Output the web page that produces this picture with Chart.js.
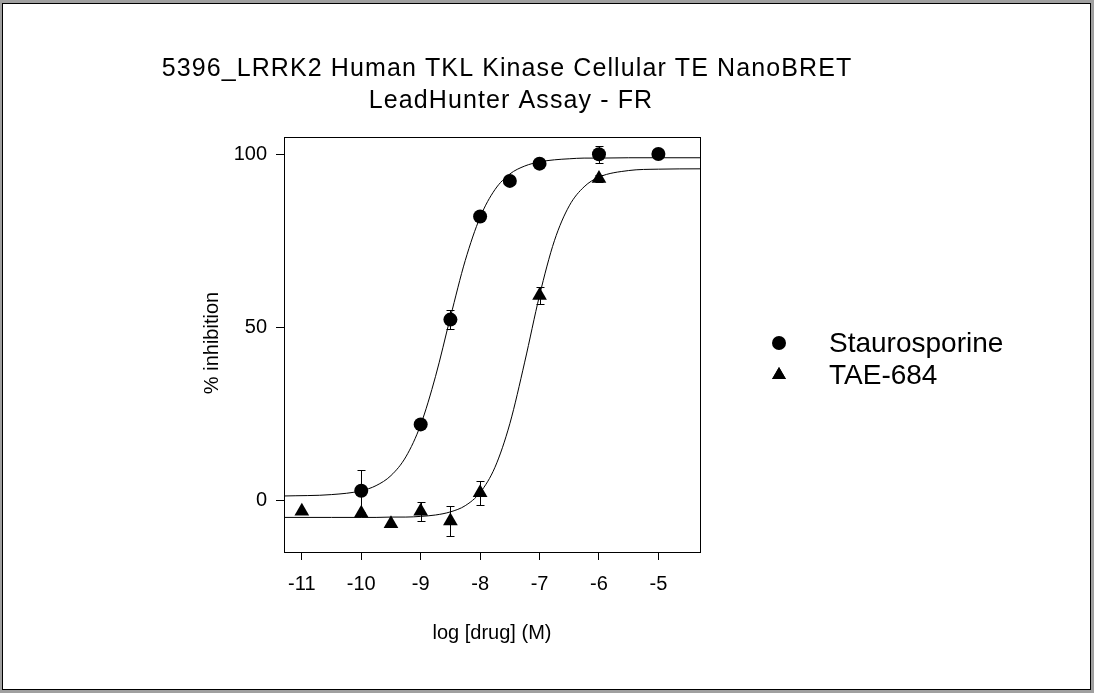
<!DOCTYPE html>
<html>
<head>
<meta charset="utf-8">
<script src="https://cdn.jsdelivr.net/npm/chart.js@4/dist/chart.umd.min.js"></script>
<style>
  html, body { margin: 0; padding: 0; background: #a0a0a0; }
  #wrap { position: absolute; left: 0; top: 0; width: 1094px; height: 693px; }
  canvas { display: block; }
</style>
</head>
<body>
<div id="wrap"><canvas id="c" width="1094" height="693"></canvas></div>
<script>
// ---- data ----
const titleLines = ["5396_LRRK2 Human TKL Kinase Cellular TE NanoBRET", "LeadHunter Assay - FR"];
const xTitle = "log [drug] (M)";
const yTitle = "% inhibition";
const seriesNames = ["Staurosporine", "TAE-684"];

const xTicks = [-11, -10, -9, -8, -7, -6, -5];
const yTicks = [0, 50, 100];

// Staurosporine measured points
const stauX   = [-10, -9, -8.5, -8, -7.5, -7, -6, -5];
const stauY   = [2.7, 21.9, 52.2, 82.0, 92.3, 97.3, 100.0, 100.1];
const stauErr = [6.0, 1.0, 2.7, 1.0, 1.0, 1.0, 2.5, 1.0];

// TAE-684 measured points
const taeX   = [-11, -10, -9.5, -9, -8.5, -8, -7, -6];
const taeY   = [-3.2, -3.8, -6.8, -3.2, -6.0, 2.1, 59.2, 93.0];
const taeErr = [0, 0, 0, 2.7, 4.3, 3.5, 2.4, 1.0];

// fitted curves
const curveX    = [-11.3, -10.5, -10, -9.75, -9.5, -9.25, -9, -8.75, -8.5, -8.25, -8, -7.75, -7.5, -7.25, -7, -6.75, -6.5, -6.25, -6, -5.5, -5, -4.3];
const stauCurve = [1.2, 1.6, 2.7, 4.2, 7.1, 12.5, 21.8, 35.8, 52.9, 69.3, 81.8, 89.8, 94.3, 96.6, 97.8, 98.4, 98.7, 98.9, 98.9, 99.0, 99.0, 99.0];
const taeCurve  = [-5.0, -5.0, -5.0, -5.0, -4.9, -4.9, -4.7, -4.3, -3.4, -1.6, 2.2, 9.5, 22.1, 39.9, 59.2, 75.0, 85.1, 90.6, 93.4, 95.3, 95.7, 95.8];

const FONT = "'Liberation Sans', Arial, sans-serif";

const pts = (xs, ys) => xs.map((x, i) => ({ x: x, y: ys[i] }));

const frameAndText = {
  id: 'frameAndText',
  beforeDraw(chart) {
    const ctx = chart.ctx;
    ctx.save();
    ctx.fillStyle = '#a0a0a0';
    ctx.fillRect(0, 0, chart.width, chart.height);
    ctx.fillStyle = '#ffffff';
    ctx.fillRect(2, 3, 1089, 687);
    ctx.strokeStyle = '#000000';
    ctx.lineWidth = 1;
    ctx.strokeRect(2.5, 3.5, 1088, 686);
    ctx.restore();
  },
  afterDraw(chart) {
    const ctx = chart.ctx;
    const a = chart.chartArea;
    ctx.save();
    // plot frame
    ctx.strokeStyle = '#000';
    ctx.lineWidth = 1;
    ctx.strokeRect(Math.round(a.left) + 0.5, Math.round(a.top) + 0.5, Math.round(a.right - a.left), Math.round(a.bottom - a.top));
    ctx.fillStyle = '#000';
    // title
    ctx.font = '25px ' + FONT;
    ctx.textAlign = 'center';
    ctx.textBaseline = 'alphabetic';
    try { ctx.letterSpacing = '1.1px'; } catch (e) {}
    ctx.fillText(titleLines[0], 507, 76);
    ctx.fillText(titleLines[1], 511, 108);
    try { ctx.letterSpacing = '0px'; } catch (e) {}
    // axis titles
    ctx.font = '20px ' + FONT;
    ctx.textBaseline = 'middle';
    ctx.fillText(xTitle, (a.left + a.right) / 2, 633);
    ctx.save();
    ctx.translate(212, 343);
    ctx.rotate(-Math.PI / 2);
    ctx.fillText(yTitle, 0, 0);
    ctx.restore();
    // legend
    ctx.font = '28px ' + FONT;
    ctx.textAlign = 'left';
    ctx.textBaseline = 'middle';
    ctx.fillText(seriesNames[0], 829, 344);
    ctx.fillText(seriesNames[1], 829, 376);
    ctx.beginPath();
    ctx.arc(779, 343, 7, 0, Math.PI * 2);
    ctx.fill();
    Chart.helpers.drawPoint(ctx, { pointStyle: 'triangle', radius: 8, borderWidth: 0 }, 779, 375);
    ctx.fill();
    ctx.restore();
  }
};

const errorBars = {
  id: 'errorBars',
  beforeDatasetsDraw(chart) {
    const ctx = chart.ctx;
    const xs = chart.scales.x, ys = chart.scales.y;
    ctx.save();
    ctx.strokeStyle = '#000';
    ctx.lineWidth = 1;
    const draw = (X, Y, E) => {
      X.forEach((x, i) => {
        if (!E[i]) return;
        const px = Math.round(xs.getPixelForValue(x)) + 0.5;
        const t = Math.round(ys.getPixelForValue(Y[i] + E[i])) + 0.5;
        const b = Math.round(ys.getPixelForValue(Y[i] - E[i])) + 0.5;
        ctx.beginPath();
        ctx.moveTo(px, t); ctx.lineTo(px, b);
        ctx.moveTo(px - 4, t); ctx.lineTo(px + 4, t);
        ctx.moveTo(px - 4, b); ctx.lineTo(px + 4, b);
        ctx.stroke();
      });
    };
    draw(stauX, stauY, stauErr);
    draw(taeX, taeY, taeErr);
    ctx.restore();
  }
};

new Chart(document.getElementById('c'), {
  type: 'scatter',
  data: {
    datasets: [
      { label: seriesNames[0] + ' fit', data: pts(curveX, stauCurve), showLine: true, pointRadius: 0, borderColor: '#000', borderWidth: 1, cubicInterpolationMode: 'monotone', fill: false },
      { label: seriesNames[1] + ' fit', data: pts(curveX, taeCurve), showLine: true, pointRadius: 0, borderColor: '#000', borderWidth: 1, cubicInterpolationMode: 'monotone', fill: false },
      { label: seriesNames[0], data: pts(stauX, stauY), pointStyle: 'circle', pointRadius: 7, backgroundColor: '#000', borderColor: '#000', borderWidth: 0, showLine: false },
      { label: seriesNames[1], data: pts(taeX, taeY), pointStyle: 'triangle', pointRadius: 8.5, backgroundColor: '#000', borderColor: '#000', borderWidth: 0, showLine: false }
    ]
  },
  options: {
    responsive: false,
    animation: false,
    devicePixelRatio: 1,
    events: [],
    layout: { padding: { left: 200, top: 137, right: 394, bottom: 0 } },
    plugins: { legend: { display: false }, title: { display: false }, tooltip: { enabled: false } },
    scales: {
      x: {
        type: 'linear', position: 'bottom', min: -11.3, max: -4.3,
        afterFit(s) { s.height = 141; },
        afterBuildTicks(s) { s.ticks = xTicks.map(v => ({ value: v })); },
        ticks: { color: '#000', font: { family: FONT, size: 20 }, padding: 12, maxRotation: 0, autoSkip: false },
        grid: { drawOnChartArea: false, drawTicks: true, tickLength: 8, color: '#000', tickColor: '#000', tickWidth: 1 },
        border: { display: true, color: '#000', width: 1 }
      },
      y: {
        type: 'linear', position: 'left', min: -15, max: 105,
        afterFit(s) { s.width = 84; },
        afterBuildTicks(s) { s.ticks = yTicks.map(v => ({ value: v })); },
        ticks: { color: '#000', font: { family: FONT, size: 20 }, padding: 9, autoSkip: false },
        grid: { drawOnChartArea: false, drawTicks: true, tickLength: 8, color: '#000', tickColor: '#000', tickWidth: 1 },
        border: { display: true, color: '#000', width: 1 }
      }
    }
  },
  plugins: [frameAndText, errorBars]
});
</script>
</body>
</html>
